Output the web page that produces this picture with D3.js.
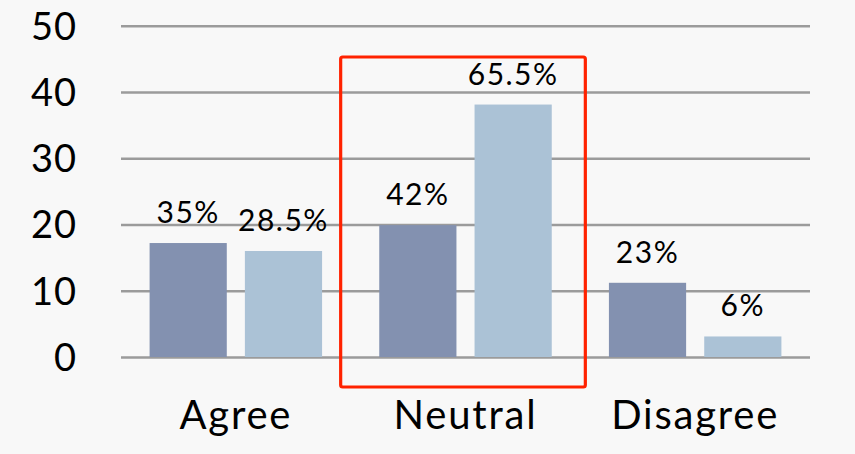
<!DOCTYPE html>
<html>
<head>
<meta charset="utf-8">
<script src="https://cdn.jsdelivr.net/npm/d3@7"></script>
<style>
  html, body { margin: 0; padding: 0; background: #f8f8f8; }
  svg { display: block; font-family: Lato, "Noto Sans", sans-serif; }
</style>
</head>
<body>
<svg id="chart" width="855" height="454"></svg>
<script>
// Response groups and the two survey series
const categories = ["Agree", "Neutral", "Disagree"];
const seriesNames = ["first", "second"];
const firstValues = [17.2, 19.9, 11.2];
const secondValues = [16.0, 38.1, 3.1];
const firstLabels = ["35%", "42%", "23%"];
const secondLabels = ["28.5%", "65.5%", "6%"];
const yTicks = [0, 10, 20, 30, 40, 50];
const highlighted = "Neutral";

const colors = { first: "#8391b0", second: "#abc2d6" };

const svg = d3.select("#chart");
const margin = { left: 121, right: 45, top: 25.7, bottom: 97 };
const W = 855, H = 454;

const x = d3.scaleBand().domain(categories)
  .range([margin.left, W - margin.right]).paddingInner(0).paddingOuter(0);
const x1 = d3.scaleBand().domain(seriesNames)
  .range([0, x.bandwidth()]).paddingInner(0.19).paddingOuter(0.3);
const y = d3.scaleLinear().domain([0, 50]).range([H - margin.bottom, margin.top]);

// Gridlines and y tick labels
const yAxis = d3.axisLeft(y).tickValues(yTicks)
  .tickSize(-(W - margin.left - margin.right)).tickPadding(44);
const gy = svg.append("g").attr("transform", `translate(${margin.left},0)`).call(yAxis);
gy.select(".domain").remove();
gy.selectAll(".tick line").attr("stroke", "#9b9b9b").attr("stroke-width", 2.4);
gy.selectAll(".tick text").attr("fill", "#000").attr("font-size", 38)
  .attr("font-family", "Lato, 'Noto Sans', sans-serif").attr("dy", "0.35em")
  .attr("letter-spacing", 1);

// Bars
const rows = categories.map((c, i) => ({
  cat: c,
  bars: [
    { key: "first", value: firstValues[i], label: firstLabels[i] },
    { key: "second", value: secondValues[i], label: secondLabels[i] }
  ]
}));

const groups = svg.append("g").selectAll("g").data(rows).join("g")
  .attr("transform", d => `translate(${x(d.cat)},0)`);

groups.selectAll("rect").data(d => d.bars).join("rect")
  .attr("x", d => x1(d.key))
  .attr("width", x1.bandwidth())
  .attr("y", d => y(d.value))
  .attr("height", d => y(0) - y(d.value))
  .attr("fill", d => colors[d.key]);

groups.selectAll("text").data(d => d.bars).join("text")
  .attr("x", d => x1(d.key) + x1.bandwidth() / 2)
  .attr("y", d => y(d.value) - 20)
  .attr("text-anchor", "middle")
  .attr("font-size", 30)
  .attr("letter-spacing", 1.5)
  .attr("fill", "#000")
  .text(d => d.label);

// Category labels
const xAxis = d3.axisBottom(x).tickSize(0).tickPadding(0);
const gx = svg.append("g").attr("transform", `translate(0,${y(0)})`).call(xAxis);
gx.select(".domain").remove();
gx.selectAll(".tick text").attr("fill", "#000").attr("font-size", 40)
  .attr("font-family", "Lato, 'Noto Sans', sans-serif")
  .attr("letter-spacing", 1.8)
  .attr("dy", 0).attr("y", 72);

// Highlight box around the Neutral group
svg.append("rect")
  .attr("x", x(highlighted) - 10)
  .attr("y", 57)
  .attr("width", x.bandwidth() + 15)
  .attr("height", 330)
  .attr("rx", 2)
  .attr("fill", "none")
  .attr("stroke", "#ff2200")
  .attr("stroke-width", 3.2);
</script>
</body>
</html>
